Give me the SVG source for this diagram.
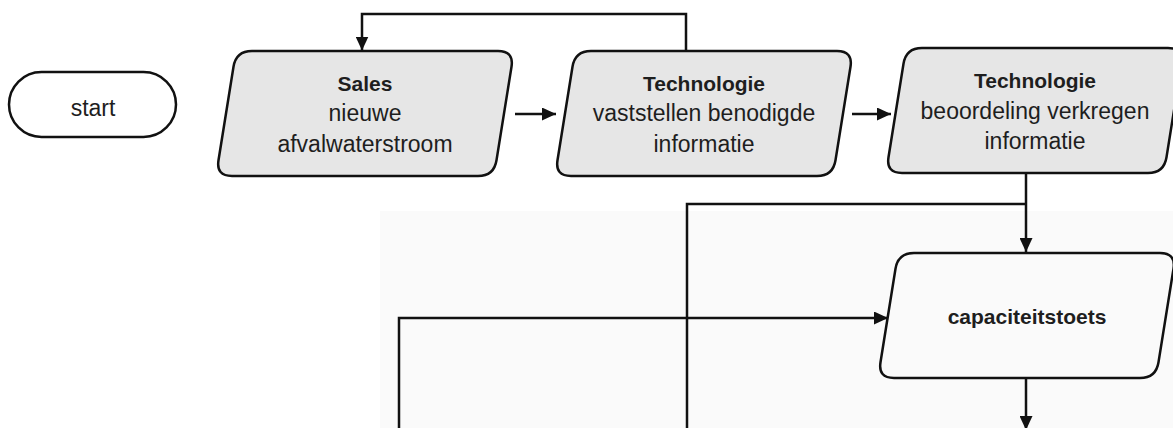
<svg xmlns="http://www.w3.org/2000/svg" xmlns:xlink="http://www.w3.org/1999/xlink" width="1173" height="428" viewBox="0 0 1173 428">
  <style>
    .shape { stroke: #111; stroke-width: 2.5; stroke-linejoin: round; }
    .filled { fill: #e6e6e6; }
    .open { fill: none; }
    .label { font-family: "Liberation Sans", Arial, sans-serif; font-size: 23px; fill: #1e1e1e; text-anchor: middle; }
    .title { font-weight: bold; font-size: 21px; }
    .wire { fill: none; stroke: #111; stroke-width: 2.5; }
  </style>
  <defs>
    <!-- slanted process box with rounded corners, 278 wide on top, 125 high, 20 px lean -->
    <path id="slant-box" d="M36,0 L282,0 Q298,0 295.5,15.8 L280.5,109.2 Q278,125 262,125 L16,125 Q0,125 2.5,109.2 L17.5,15.8 Q20,0 36,0 Z"/>
    <marker id="arrow" viewBox="0 0 14 13" refX="14" refY="6.5" markerWidth="14" markerHeight="13" markerUnits="userSpaceOnUse" orient="auto">
      <path d="M0,0 L14,6.5 L0,13 Z" fill="#111"/>
    </marker>
  </defs>

  <rect width="1173" height="428" fill="#ffffff"/>
  <!-- lower panel backdrop -->
  <rect x="380" y="211" width="793" height="217" fill="#fafafa"/>

  <g id="connectors">
    <path class="wire" d="M686,51 V14 H362 V50.5" marker-end="url(#arrow)"/>
    <path class="wire" d="M515,114 H556" marker-end="url(#arrow)"/>
    <path class="wire" d="M852,114 H891" marker-end="url(#arrow)"/>
    <path class="wire" d="M1026,173 V252" marker-end="url(#arrow)"/>
    <path class="wire" d="M687,428 V204 H1026"/>
    <path class="wire" d="M399,428 V318 H888" marker-end="url(#arrow)"/>
    <path class="wire" d="M1026,378 V430" marker-end="url(#arrow)"/>
  </g>

  <g id="start">
    <rect class="shape" x="9" y="72" width="167" height="65" rx="32.5" fill="#ffffff"/>
    <text class="label" x="93" y="116">start</text>
  </g>

  <g id="sales">
    <use xlink:href="#slant-box" class="shape filled" transform="translate(216,51)"/>
    <text class="label title" x="365" y="91">Sales</text>
    <text class="label" x="365" y="121">nieuwe</text>
    <text class="label" x="365" y="152">afvalwaterstroom</text>
  </g>

  <g id="tech-info">
    <use xlink:href="#slant-box" class="shape filled" transform="translate(555,51)"/>
    <text class="label title" x="704" y="91">Technologie</text>
    <text class="label" x="704" y="121">vaststellen benodigde</text>
    <text class="label" x="704" y="152">informatie</text>
  </g>

  <g id="tech-review">
    <use xlink:href="#slant-box" class="shape filled" transform="translate(886,48)"/>
    <text class="label title" x="1035" y="88">Technologie</text>
    <text class="label" x="1035" y="119">beoordeling verkregen</text>
    <text class="label" x="1035" y="149">informatie</text>
  </g>

  <g id="capacity">
    <use xlink:href="#slant-box" class="shape open" transform="translate(878,253)"/>
    <text class="label title" x="1027" y="324">capaciteitstoets</text>
  </g>
</svg>
